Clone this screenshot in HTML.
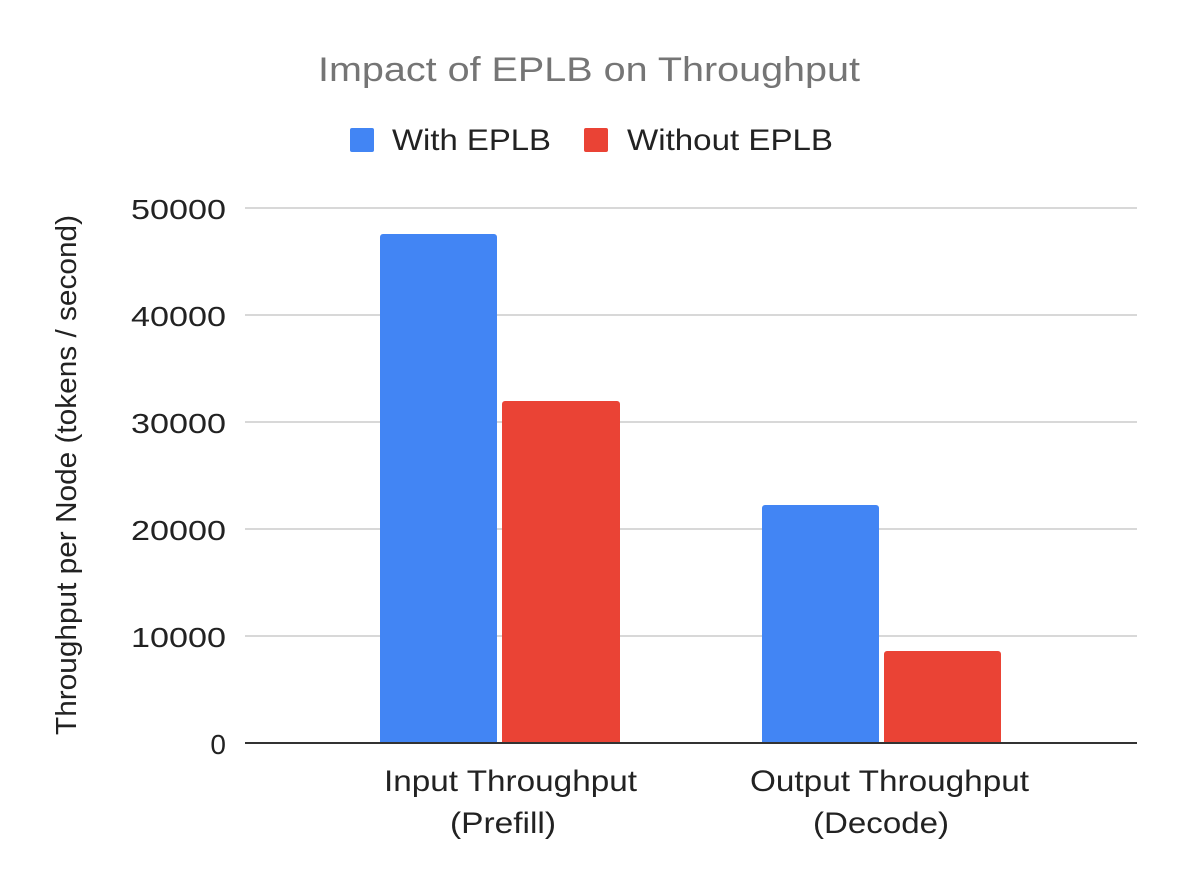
<!DOCTYPE html>
<html><head><meta charset="utf-8"><style>
html,body{margin:0;padding:0;background:#fff;}
svg{display:block;}
text{font-family:"Liberation Sans",Arial,sans-serif;}
</style></head><body>
<svg width="1182" height="884" viewBox="0 0 1182 884" xmlns="http://www.w3.org/2000/svg">
<rect width="1182" height="884" fill="#fff"/>
<text x="318" y="81" font-size="34" fill="#757575" textLength="542" lengthAdjust="spacingAndGlyphs">Impact of EPLB on Throughput</text>
<rect x="350" y="128" width="24" height="24" rx="2" fill="#4285F4"/>
<text x="392" y="150" font-size="30" fill="#222" textLength="159" lengthAdjust="spacingAndGlyphs">With EPLB</text>
<rect x="584" y="128" width="24" height="24" rx="2" fill="#EA4335"/>
<text x="627" y="150" font-size="30" fill="#222" textLength="206" lengthAdjust="spacingAndGlyphs">Without EPLB</text>
<g stroke="#cccccc" stroke-width="1.5">
<line x1="245" y1="208" x2="1137" y2="208"/>
<line x1="245" y1="315" x2="1137" y2="315"/>
<line x1="245" y1="422" x2="1137" y2="422"/>
<line x1="245" y1="529" x2="1137" y2="529"/>
<line x1="245" y1="636" x2="1137" y2="636"/>
</g>
<g font-size="28" fill="#222">
<text x="131" y="219" textLength="95" lengthAdjust="spacingAndGlyphs">50000</text>
<text x="131" y="326" textLength="95" lengthAdjust="spacingAndGlyphs">40000</text>
<text x="131" y="433" textLength="95" lengthAdjust="spacingAndGlyphs">30000</text>
<text x="131" y="540" textLength="95" lengthAdjust="spacingAndGlyphs">20000</text>
<text x="131" y="647" textLength="95" lengthAdjust="spacingAndGlyphs">10000</text>
<text x="226" y="754" text-anchor="end">0</text>
</g>
<text transform="translate(76,735) rotate(-90)" font-size="29" fill="#222" textLength="520" lengthAdjust="spacingAndGlyphs">Throughput per Node (tokens / second)</text>
<path d="M380 743V237a3 3 0 0 1 3-3h111a3 3 0 0 1 3 3V743Z" fill="#4285F4"/>
<path d="M502 743V404a3 3 0 0 1 3-3h112a3 3 0 0 1 3 3V743Z" fill="#EA4335"/>
<path d="M762 743V508a3 3 0 0 1 3-3h111a3 3 0 0 1 3 3V743Z" fill="#4285F4"/>
<path d="M884 743V654a3 3 0 0 1 3-3h111a3 3 0 0 1 3 3V743Z" fill="#EA4335"/>
<line x1="245" y1="743" x2="1137" y2="743" stroke="#333" stroke-width="2"/>
<g font-size="30" fill="#222">
<text x="384" y="791" textLength="253" lengthAdjust="spacingAndGlyphs">Input Throughput</text>
<text x="450" y="833" textLength="106" lengthAdjust="spacingAndGlyphs">(Prefill)</text>
<text x="750" y="791" textLength="279" lengthAdjust="spacingAndGlyphs">Output Throughput</text>
<text x="813" y="833" textLength="136" lengthAdjust="spacingAndGlyphs">(Decode)</text>
</g>
</svg>
</body></html>
